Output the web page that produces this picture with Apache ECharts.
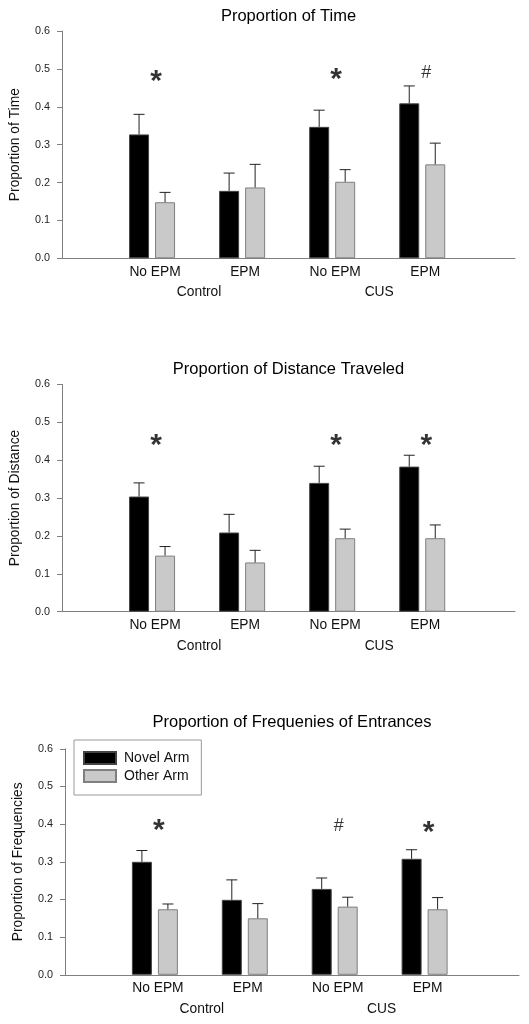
<!DOCTYPE html>
<html>
<head>
<meta charset="utf-8">
<script src="https://cdn.jsdelivr.net/npm/echarts@6/dist/echarts.min.js"></script>
<style>html,body{margin:0;padding:0;background:#fff}#c{width:529px;height:1024px}</style>
</head>
<body>
<div id="c"></div>
<script>
// ---- data ----
const categories = ['No EPM', 'EPM', 'No EPM', 'EPM'];
const groups = ['Control', 'CUS'];
const seriesNames = ['Novel Arm', 'Other Arm'];
const yTicks = [0, 0.1, 0.2, 0.3, 0.4, 0.5, 0.6];

const titles = ['Proportion of Time', 'Proportion of Distance Traveled', 'Proportion of Frequenies of Entrances'];
const yNames = ['Proportion of Time', 'Proportion of Distance', 'Proportion of Frequencies'];

const timeNovel = [0.327, 0.178, 0.347, 0.409];
const timeNovelErr = [0.053, 0.047, 0.044, 0.046];
const timeOther = [0.148, 0.187, 0.202, 0.248];
const timeOtherErr = [0.026, 0.061, 0.032, 0.056];
const timeMarks = ['*', '', '*', '#'];
const timeMarkY = [0.485, null, 0.49, 0.49];

const distNovel = [0.304, 0.209, 0.340, 0.383];
const distNovelErr = [0.036, 0.048, 0.044, 0.030];
const distOther = [0.148, 0.130, 0.194, 0.194];
const distOtherErr = [0.024, 0.032, 0.024, 0.035];
const distMarks = ['*', '', '*', '*'];
const distMarkY = [0.457, null, 0.457, 0.457];

const freqNovel = [0.300, 0.199, 0.228, 0.308];
const freqNovelErr = [0.030, 0.053, 0.029, 0.024];
const freqOther = [0.174, 0.150, 0.181, 0.174];
const freqOtherErr = [0.014, 0.039, 0.025, 0.031];
const freqMarks = ['*', '#', '*'];
const freqMarkIdx = [0, 2, 3];
const freqMarkY = [0.40, 0.396, 0.396];

// ---- layout ----
const FONT = 'Liberation Sans, Arial, sans-serif';
const AXIS_COLOR = '#808080';
const BAR_W = 20;
const BAR_OFF = 13;

const panels = [
  {novel: timeNovel, novelErr: timeNovelErr, other: timeOther, otherErr: timeOtherErr,
   marks: timeMarks.map((m, i) => ({m, i, y: timeMarkY[i]})).filter(d => d.m),
   grid: {left: 62, top: 31, width: 453, height: 227.3}, titleTop: 7.5, max: 5.03},
  {novel: distNovel, novelErr: distNovelErr, other: distOther, otherErr: distOtherErr,
   marks: distMarks.map((m, i) => ({m, i, y: distMarkY[i]})).filter(d => d.m),
   grid: {left: 62, top: 384.4, width: 453, height: 227.3}, titleTop: 360.7, max: 5.03},
  {novel: freqNovel, novelErr: freqNovelErr, other: freqOther, otherErr: freqOtherErr,
   marks: freqMarks.map((m, k) => ({m, i: freqMarkIdx[k], y: freqMarkY[k]})),
   grid: {left: 65, top: 748.8, width: 454, height: 226}, titleTop: 713.5, max: 5.05}
];

const option = {
  animation: false,
  backgroundColor: '#fff',
  textStyle: {fontFamily: FONT},
  title: [], grid: [], xAxis: [], yAxis: [], series: [],
  legend: {
    left: 74, top: 740, orient: 'vertical',
    data: seriesNames,
    icon: 'rect', itemWidth: 32, itemHeight: 12, itemGap: 2,
    padding: [10, 12, 11, 9],
    borderColor: '#999', borderWidth: 1,
    textStyle: {fontFamily: FONT, fontSize: 14, color: '#111', padding: [0, 0, 0, 3], lineHeight: 16}
  }
};

function errRender(dx) {
  return function (params, api) {
    const base = api.coord([api.value(0), api.value(1)]);
    const top = api.coord([api.value(0), api.value(2)]);
    const x = base[0] + dx;
    const style = {stroke: '#222', lineWidth: 1};
    return {type: 'group', children: [
      {type: 'line', shape: {x1: x, y1: base[1], x2: x, y2: top[1]}, style},
      {type: 'line', shape: {x1: x - 5.5, y1: top[1], x2: x + 5.5, y2: top[1]}, style}
    ]};
  };
}

panels.forEach((p, k) => {
  const g = p.grid;
  option.grid.push(Object.assign({containLabel: false}, g));
  option.title.push({
    text: titles[k], left: g.left + g.width / 2, top: p.titleTop, textAlign: 'center', padding: 0,
    textStyle: {fontFamily: FONT, fontSize: 16.5, fontWeight: 'normal', color: '#000'}
  });
  option.xAxis.push({
    type: 'value', gridIndex: k, min: 0, max: p.max, interval: 1,
    axisLine: {show: true, lineStyle: {color: AXIS_COLOR, width: 1}},
    axisTick: {show: false}, splitLine: {show: false},
    axisLabel: {
      margin: 6.5, fontFamily: FONT, fontSize: 13.8, color: '#111', padding: [0, 0, 0, 6],
      showMinLabel: true, showMaxLabel: false,
      formatter: v => categories[Math.round(v) - 1] && Math.abs(v - Math.round(v)) < 1e-6 ? categories[Math.round(v) - 1] : ''
    }
  });
  option.xAxis.push({
    type: 'value', gridIndex: k, min: 0, max: p.max, interval: 0.5, position: 'bottom',
    axisLine: {show: false}, axisTick: {show: false}, splitLine: {show: false},
    axisLabel: {
      margin: 27, fontFamily: FONT, fontSize: 13.8, color: '#111', padding: [0, 0, 0, 4],
      showMaxLabel: false,
      formatter: v => Math.abs(v - 1.5) < 1e-6 ? groups[0] : (Math.abs(v - 3.5) < 1e-6 ? groups[1] : '')
    }
  });
  option.yAxis.push({
    type: 'value', gridIndex: k, min: yTicks[0], max: yTicks[yTicks.length - 1], interval: 0.1,
    name: yNames[k], nameLocation: 'middle', nameGap: 40, nameRotate: 90,
    nameTextStyle: {fontFamily: FONT, fontSize: 13.8, color: '#111'},
    axisLine: {show: true, lineStyle: {color: AXIS_COLOR, width: 1}},
    axisTick: {show: true, length: 5, inside: false, lineStyle: {color: AXIS_COLOR}},
    splitLine: {show: false},
    axisLabel: {margin: 12, fontFamily: FONT, fontSize: 10.8, color: '#222', formatter: v => v.toFixed(1)}
  });
  const xi = 2 * k;
  option.series.push({
    name: seriesNames[0], type: 'bar', xAxisIndex: xi, yAxisIndex: k,
    barWidth: BAR_W, barGap: '30%',
    itemStyle: {color: '#000', borderColor: '#444', borderWidth: 1},
    data: p.novel.map((v, i) => [i + 1, v])
  });
  option.series.push({
    name: seriesNames[1], type: 'bar', xAxisIndex: xi, yAxisIndex: k,
    barWidth: BAR_W, barGap: '30%',
    itemStyle: {color: '#c9c9c9', borderColor: '#7f7f7f', borderWidth: 1},
    data: p.other.map((v, i) => [i + 1, v])
  });
  option.series.push({
    type: 'custom', xAxisIndex: xi, yAxisIndex: k, z: 5,
    encode: {x: 0, y: [1, 2]}, renderItem: errRender(-BAR_OFF),
    data: p.novel.map((v, i) => [i + 1, v, v + p.novelErr[i]])
  });
  option.series.push({
    type: 'custom', xAxisIndex: xi, yAxisIndex: k, z: 5,
    encode: {x: 0, y: [1, 2]}, renderItem: errRender(BAR_OFF),
    data: p.other.map((v, i) => [i + 1, v, v + p.otherErr[i]])
  });
  option.series.push({
    type: 'scatter', xAxisIndex: xi, yAxisIndex: k, symbolSize: 0, z: 6,
    data: p.marks.map(d => ({
      value: [d.i + 1, d.y],
      label: d.m === '*'
        ? {show: true, formatter: d.m, position: 'inside', offset: [4, 7], fontSize: 30, fontWeight: 'bold', color: '#000', fontFamily: FONT}
        : {show: true, formatter: d.m, position: 'inside', offset: [4, 0], fontSize: 18, fontWeight: 'normal', color: '#000', fontFamily: FONT}
    }))
  });
});

const chart = echarts.init(document.getElementById('c'), null, {renderer: 'canvas'});
chart.setOption(option);
</script>
</body>
</html>
